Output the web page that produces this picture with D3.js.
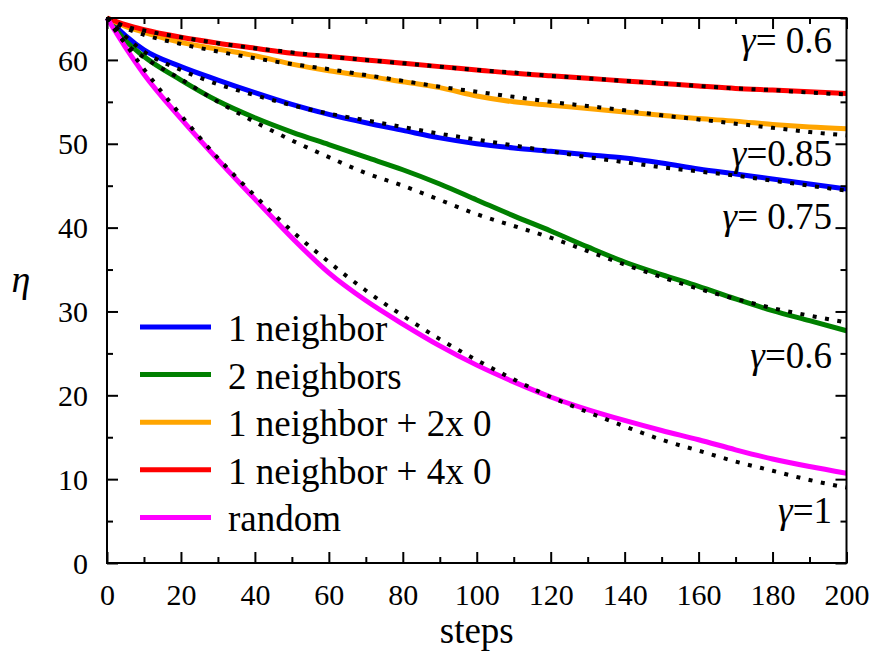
<!DOCTYPE html>
<html>
<head>
<meta charset="utf-8">
<script src="https://cdn.jsdelivr.net/npm/d3@7"></script>
<style>
  html, body { margin: 0; padding: 0; background: #fff; }
  svg { display: block; }
  svg text { font-family: 'Liberation Serif', 'DejaVu Serif', 'Times New Roman', Times, serif; fill: #000; }
</style>
</head>
<body>
<svg id="chart" width="873" height="655"></svg>
<script>
// ---------- data ----------
const steps = [0, 5, 10, 20, 30, 40, 50, 60, 70, 80, 90, 100, 110, 120, 130, 140, 150, 160, 170, 180, 190, 200];

const oneNeighbor      = [65, 62.9, 61.2, 59.2, 57.6, 56.1, 54.7, 53.5, 52.5, 51.6, 50.7, 50.0, 49.5, 49.1, 48.7, 48.3, 47.7, 47.0, 46.4, 45.8, 45.2, 44.6];
const twoNeighbors     = [65, 62.3, 60.4, 57.6, 55.1, 53.1, 51.4, 49.9, 48.4, 46.9, 45.2, 43.3, 41.4, 39.6, 37.7, 35.9, 34.4, 33.0, 31.5, 30.1, 28.9, 27.7];
const oneNeighbor2x0   = [65, 64.0, 63.3, 62.1, 61.3, 60.5, 59.5, 58.7, 58.1, 57.4, 56.7, 55.7, 55.0, 54.6, 54.2, 53.8, 53.4, 53.0, 52.7, 52.3, 52.0, 51.8];
const oneNeighbor4x0   = [65, 64.2, 63.6, 62.7, 62.0, 61.4, 60.8, 60.4, 60.0, 59.6, 59.2, 58.8, 58.4, 58.1, 57.8, 57.5, 57.2, 56.9, 56.6, 56.4, 56.2, 56.0];
const randomSeries     = [65, 61.5, 58.3, 53.0, 48.1, 43.4, 38.8, 34.6, 31.3, 28.5, 25.9, 23.6, 21.6, 19.8, 18.3, 17.0, 15.8, 14.7, 13.5, 12.4, 11.5, 10.7];

// fitted (dotted) curves
const fitOneNeighbor    = [65, 62.8, 61.0, 58.8, 57.1, 55.8, 54.6, 53.6, 52.8, 52.0, 51.2, 50.5, 49.8, 49.1, 48.4, 47.8, 47.2, 46.7, 46.2, 45.6, 45.0, 44.4];
const fitTwoNeighbors   = [65, 62.0, 60.3, 57.7, 55.0, 52.6, 50.4, 48.4, 46.5, 45.0, 43.3, 41.6, 40.2, 38.8, 37.2, 35.6, 34.1, 32.7, 31.5, 30.4, 29.5, 28.7];
const fitOneNeighbor2x0 = [65, 63.8, 63.0, 61.9, 61.0, 60.2, 59.5, 58.9, 58.2, 57.5, 56.8, 56.2, 55.6, 55.0, 54.5, 54.0, 53.4, 52.9, 52.4, 51.9, 51.4, 51.0];
const fitOneNeighbor4x0 = [65, 64.0, 63.5, 62.7, 62.0, 61.4, 60.9, 60.4, 60.0, 59.6, 59.2, 58.8, 58.5, 58.1, 57.8, 57.5, 57.2, 56.9, 56.6, 56.4, 56.1, 55.9];
const fitRandom         = [65, 61.9, 58.9, 53.4, 48.3, 43.8, 39.6, 35.9, 32.5, 29.5, 26.7, 24.2, 21.9, 19.8, 18.0, 16.3, 14.7, 13.4, 12.1, 11.0, 9.9, 9.0];

const seriesNames  = ["1 neighbor", "2 neighbors", "1 neighbor + 2x 0", "1 neighbor + 4x 0", "random"];
const seriesColors = ["#0000ff", "#008000", "#ffa500", "#ff0000", "#ff00ff"];
const seriesValues = [oneNeighbor, twoNeighbors, oneNeighbor2x0, oneNeighbor4x0, randomSeries];
const fitValues    = [fitOneNeighbor, fitTwoNeighbors, fitOneNeighbor2x0, fitOneNeighbor4x0, fitRandom];

const gammaLabels  = [
  {g: "γ", t: "= 0.6",  v: 60.8},
  {g: "γ", t: "=0.85",  v: 47.3},
  {g: "γ", t: "= 0.75", v: 39.8},
  {g: "γ", t: "=0.6",   v: 23.3},
  {g: "γ", t: "=1",     v: 4.8}
];

const xTicks = [0, 20, 40, 60, 80, 100, 120, 140, 160, 180, 200];
const yTicks = [0, 10, 20, 30, 40, 50, 60];
const xMinor = [10, 30, 50, 70, 90, 110, 130, 150, 170, 190];
const yMinor = [5, 15, 25, 35, 45, 55, 65];

// ---------- layout ----------
const FONT = "'Liberation Serif', 'DejaVu Serif', 'Times New Roman', Times, serif";
const svg = d3.select("#chart").attr("font-family", FONT);
const L = 107, R = 846.5, T = 18, B = 563;
const x = d3.scaleLinear().domain([0, 200]).range([L, R]);
const y = d3.scaleLinear().domain([0, 65]).range([B, T]);

const line = d3.line().x((d, i) => x(steps[i])).y(d => y(d)).curve(d3.curveMonotoneX);

const plot = svg.append("g");
seriesValues.forEach((vals, k) => {
  plot.append("path").datum(vals)
    .attr("d", line)
    .attr("fill", "none")
    .attr("stroke", seriesColors[k])
    .attr("stroke-width", 5)
    .attr("stroke-linejoin", "round");
});
fitValues.forEach(vals => {
  plot.append("path").datum(vals)
    .attr("d", line)
    .attr("fill", "none")
    .attr("stroke", "#000")
    .attr("stroke-width", 4)
    .attr("stroke-dasharray", "4,8.5");
});

// ---------- axes ----------
const axisW = 2;
function tickAxis(axisGen, transform) {
  const g = svg.append("g").attr("transform", transform).call(axisGen);
  g.attr("font-family", FONT);
  g.select(".domain").remove();
  g.selectAll("line").attr("stroke", "#000").attr("stroke-width", axisW);
  return g;
}
const gx = tickAxis(d3.axisBottom(x).tickValues(xTicks).tickSize(-11).tickPadding(0).tickFormat(d3.format("d")), `translate(0,${B})`);
gx.selectAll("text").attr("font-size", 30).attr("y", 0).attr("dy", 0).attr("transform", "translate(0,42)");
tickAxis(d3.axisBottom(x).tickValues(xMinor).tickSize(-6).tickFormat(""), `translate(0,${B})`);
tickAxis(d3.axisTop(x).tickValues(xTicks).tickSize(-11).tickFormat(""), `translate(0,${T})`);
tickAxis(d3.axisTop(x).tickValues(xMinor).tickSize(-6).tickFormat(""), `translate(0,${T})`);
const gy = tickAxis(d3.axisLeft(y).tickValues(yTicks).tickSize(-11).tickPadding(0).tickFormat(d3.format("d")), `translate(${L},0)`);
gy.selectAll("text").attr("font-size", 30).attr("x", -19).attr("dy", "0.34em");
tickAxis(d3.axisLeft(y).tickValues(yMinor).tickSize(-6).tickFormat(""), `translate(${L},0)`);
tickAxis(d3.axisRight(y).tickValues(yTicks).tickSize(-11).tickFormat(""), `translate(${R},0)`);
tickAxis(d3.axisRight(y).tickValues(yMinor).tickSize(-6).tickFormat(""), `translate(${R},0)`);

svg.append("rect").attr("x", L).attr("y", T).attr("width", R - L).attr("height", B - T)
  .attr("fill", "none").attr("stroke", "#000").attr("stroke-width", axisW);

// axis labels
svg.append("text").attr("x", (L + R) / 2).attr("y", 643).attr("text-anchor", "middle")
  .attr("font-size", 37).text("steps");
svg.append("text").attr("x", 21).attr("y", 292).attr("text-anchor", "middle")
  .attr("font-size", 38).attr("font-style", "italic").text("η");

// gamma labels
const gl = svg.append("g");
gammaLabels.forEach(d => {
  const t = gl.append("text").attr("x", 832).attr("y", y(d.v)).attr("text-anchor", "end")
    .attr("font-size", 37);
  t.append("tspan").attr("font-style", "italic").text(d.g);
  t.append("tspan").text(d.t);
});

// legend
const leg = svg.append("g");
seriesNames.forEach((name, k) => {
  const yy = 327 + k * 47.6;
  leg.append("line").attr("x1", 140).attr("x2", 211).attr("y1", yy).attr("y2", yy)
    .attr("stroke", seriesColors[k]).attr("stroke-width", 5);
  leg.append("text").attr("x", 228).attr("y", yy + 14).attr("font-size", 37).text(name);
});
</script>
</body>
</html>
